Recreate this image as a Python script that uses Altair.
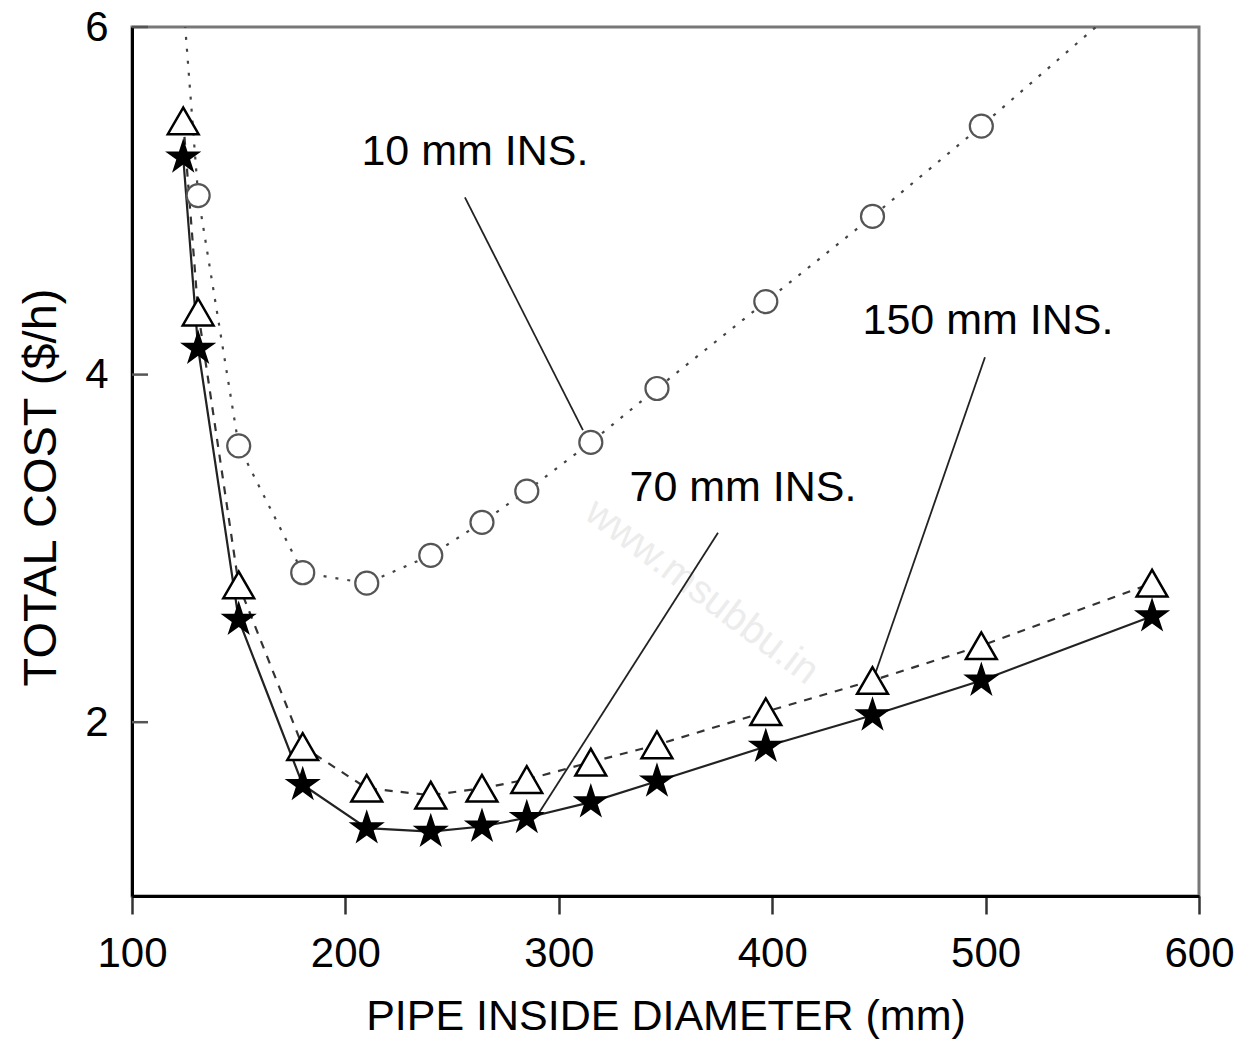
import altair as alt
import pandas as pd

# ---- data ----
diam = [124, 131, 150, 180, 210, 240, 264, 285, 315, 346, 397, 447, 498, 578]
cost_10mm = [6.15, 5.03, 3.59, 2.86, 2.80, 2.96, 3.15, 3.33, 3.61, 3.92, 4.42, 4.91, 5.43, 6.28]
cost_150mm = [5.46, 4.36, 2.79, 1.86, 1.62, 1.58, 1.62, 1.67, 1.77, 1.87, 2.06, 2.24, 2.44, 2.80]
cost_70mm = [5.25, 4.15, 2.59, 1.64, 1.39, 1.37, 1.40, 1.45, 1.54, 1.66, 1.86, 2.04, 2.24, 2.61]

x_ticks = [100, 200, 300, 400, 500, 600]
y_ticks = [2, 4, 6]

label_text = ["10 mm INS.", "70 mm INS.", "150 mm INS."]
label_x = [260.7, 386.3, 501.1]
label_y = [5.28, 3.35, 4.31]
leader_x1 = [256.0, 374.6, 499.7]
leader_y1 = [5.02, 3.09, 4.10]
leader_x2 = [311.3, 290.3, 448.6]
leader_y2 = [3.68, 1.47, 2.29]

watermark = ["www.msubbu.in"]
watermark_x = [367]
watermark_y = [2.75]

FONT = "Liberation Sans, Arial, Helvetica, sans-serif"
STAR = ("M0,-1L0.2245,-0.309L0.951,-0.309L0.363,0.118L0.588,0.809L0,0.382"
        "L-0.588,0.809L-0.363,0.118L-0.951,-0.309L-0.2245,-0.309Z")

xs = alt.Scale(domain=[100, 600], nice=False, zero=False)
ys = alt.Scale(domain=[1, 6], nice=False, zero=False)

XAX = alt.Axis(
    title="PIPE INSIDE DIAMETER (mm)", values=x_ticks, grid=False,
    domainColor="black", domainWidth=3, tickColor="#333", tickWidth=2.5, tickSize=18,
    labelFontSize=42, labelPadding=19, labelColor="black", labelFont=FONT,
    titleFont=FONT, titleFontSize=43, titleFontWeight="normal", titleColor="black",
    titlePadding=21, labelFlush=False)
YAX = alt.Axis(
    title="TOTAL COST ($/h)", values=y_ticks, grid=False, ticks=False,
    domainColor="black", domainWidth=3,
    labelFontSize=42, labelPadding=24, labelColor="black", labelFont=FONT,
    titleFont=FONT, titleFontSize=47, titleFontWeight="normal", titleColor="black",
    titleX=-91, titleY=460, titleBaseline="middle", titleAlign="center",
    labelFlush=False)


def X(f):
    return alt.X(f, type="quantitative", scale=xs, axis=XAX)


def Y(f):
    return alt.Y(f, type="quantitative", scale=ys, axis=YAX)


d10 = pd.DataFrame({"d": diam, "c": cost_10mm})
d150 = pd.DataFrame({"d": diam, "c": cost_150mm})
d70 = pd.DataFrame({"d": diam, "c": cost_70mm})
ann = pd.DataFrame({"t": label_text, "x": label_x, "y": label_y,
                    "x1": leader_x1, "y1": leader_y1, "x2": leader_x2, "y2": leader_y2})
wm = pd.DataFrame({"t": watermark, "x": watermark_x, "y": watermark_y})
yt = pd.DataFrame({"v": y_ticks})

line10 = alt.Chart(d10).mark_line(clip=True, color="#444", strokeWidth=2.2,
                                  strokeDash=[3, 9]).encode(x=X("d"), y=Y("c"))
line150 = alt.Chart(d150).mark_line(clip=True, color="#333", strokeWidth=2.2,
                                    strokeDash=[8, 8]).encode(x=X("d"), y=Y("c"))
line70 = alt.Chart(d70).mark_line(clip=True, color="#222", strokeWidth=2.2).encode(
    x=X("d"), y=Y("c"))

inside = "datum.c <= 6"
pt10 = alt.Chart(d10).transform_filter(inside).mark_point(
    shape="circle", size=530, filled=False, fill="white", fillOpacity=1,
    stroke="#555", strokeWidth=2.2, opacity=1).encode(x=X("d"), y=Y("c"))
pt150 = alt.Chart(d150).transform_filter(inside).mark_point(
    shape="triangle-up", size=950, filled=False, fill="white", fillOpacity=1,
    stroke="black", strokeWidth=2.5, opacity=1).encode(x=X("d"), y=Y("c"))
pt70 = alt.Chart(d70).transform_filter(inside).mark_point(
    shape=STAR, size=1450, filled=True, color="black", opacity=1).encode(
    x=X("d"), y=Y("c"))

leaders = alt.Chart(ann).mark_rule(color="#222", strokeWidth=1.8).encode(
    x=X("x1"), y=Y("y1"), x2="x2:Q", y2="y2:Q")
labels = alt.Chart(ann).mark_text(font=FONT, fontSize=43, color="black",
                                  align="center", baseline="middle").encode(
    x=X("x"), y=Y("y"), text="t:N")

wmark = alt.Chart(wm).mark_text(font=FONT, fontSize=40, color="#ececec", angle=37,
                                align="center", baseline="middle").encode(
    x=X("x"), y=Y("y"), text="t:N")

yticks = alt.Chart(yt).mark_rule(color="#555", strokeWidth=2.5).encode(
    y=Y("v"), x=alt.value(0), x2=alt.value(16))

chart = alt.layer(line10, wmark, line150, line70, leaders, pt10, pt150, pt70,
                  labels, yticks).properties(
    width=1067, height=869,
    autosize=alt.AutoSizeParams(type="none"),
    padding={"left": 132, "top": 27, "right": 40, "bottom": 148},
    background="white",
).configure_view(stroke="#777", strokeWidth=3)

chart.save("out.html", embed_options={"renderer": "svg", "actions": False})
